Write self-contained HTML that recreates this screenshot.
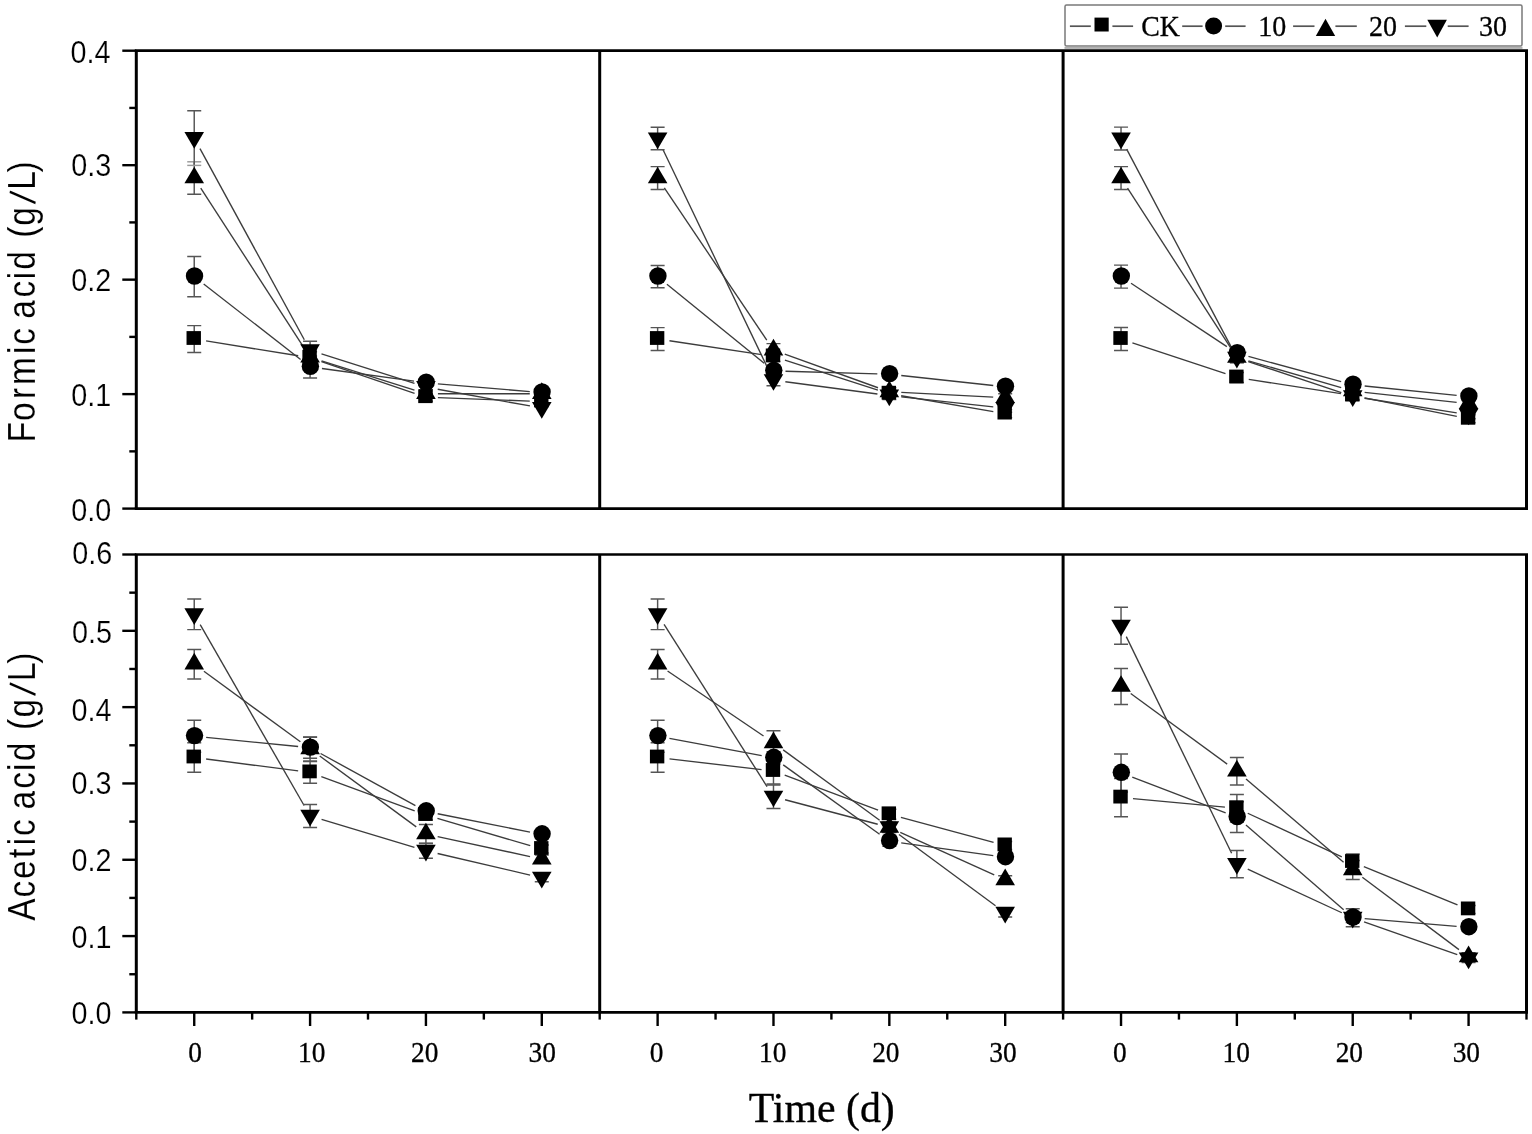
<!DOCTYPE html>
<html lang="en"><head><meta charset="utf-8"><title>Formic and acetic acid over time</title>
<style>html,body{margin:0;padding:0;background:#fff}body{width:1532px;height:1134px;overflow:hidden}svg{display:block}.ser{font-family:"Liberation Serif","DejaVu Serif",serif}.san{font-family:"Liberation Sans","DejaVu Sans",sans-serif}text{fill:#000}</style></head><body>
<svg width="1532" height="1134" viewBox="0 0 1532 1134">
<rect width="1532" height="1134" fill="#fff"/>
<g stroke="#3c3c3c" stroke-width="1.35" fill="none"><line x1="206.07" y1="340.91" x2="298.23" y2="355.79"/><line x1="321.43" y1="361.57" x2="414.57" y2="393.33"/><line x1="437.92" y1="397.65" x2="529.78" y2="401.05"/><line x1="203.69" y1="283.98" x2="300.61" y2="359.52"/><line x1="321.96" y1="368.53" x2="414.04" y2="381.17"/><line x1="437.88" y1="383.81" x2="529.82" y2="391.59"/><line x1="200.74" y1="188.08" x2="303.56" y2="347.12"/><line x1="321.52" y1="360.81" x2="414.48" y2="390.09"/><line x1="437.93" y1="393.70" x2="529.78" y2="393.70"/><line x1="199.98" y1="148.63" x2="304.32" y2="339.77"/><line x1="321.51" y1="353.93" x2="414.49" y2="383.47"/><line x1="437.73" y1="389.24" x2="529.97" y2="405.96"/></g>
<g stroke="#555" stroke-width="1.45" fill="none"><path d="M194.23 325.60V352.40M187.23 325.60h14.0M187.23 352.40h14.0"/><path d="M310.08 351.70V363.70M303.08 351.70h14.0M303.08 363.70h14.0"/><path d="M425.93 393.20V401.20M418.93 393.20h14.0M418.93 401.20h14.0"/><path d="M541.78 397.50V405.50M534.78 397.50h14.0M534.78 405.50h14.0"/><path d="M194.23 256.50V296.70M187.23 256.50h14.0M187.23 296.70h14.0"/><path d="M310.08 355.90V377.90M303.08 355.90h14.0M303.08 377.90h14.0"/><path d="M425.93 378.80V386.80M418.93 378.80h14.0M418.93 386.80h14.0"/><path d="M541.78 388.60V396.60M534.78 388.60h14.0M534.78 396.60h14.0"/><path d="M194.23 161.80V194.20M187.23 194.20h14.0"/><path stroke="#9a9a9a" d="M187.23 161.80h14.0"/><path d="M310.08 349.20V365.20M303.08 349.20h14.0M303.08 365.20h14.0"/><path d="M425.93 389.70V397.70M418.93 389.70h14.0M418.93 397.70h14.0"/><path d="M541.78 389.70V397.70M534.78 389.70h14.0M534.78 397.70h14.0"/><path d="M194.23 110.80V165.40M187.23 110.80h14.0"/><path stroke="#9a9a9a" d="M187.23 165.40h14.0"/><path d="M310.08 341.30V359.30M303.08 341.30h14.0M303.08 359.30h14.0"/><path d="M425.93 383.10V391.10M418.93 383.10h14.0M418.93 391.10h14.0"/></g>
<g fill="#000"><rect x="186.53" y="331.10" width="14.4" height="13.8"/><rect x="302.38" y="349.80" width="14.4" height="13.8"/><rect x="418.23" y="389.30" width="14.4" height="13.8"/><rect x="534.08" y="393.60" width="14.4" height="13.8"/><circle cx="194.53" cy="276.00" r="8.7"/><circle cx="310.38" cy="366.30" r="8.7"/><circle cx="426.23" cy="382.20" r="8.7"/><circle cx="542.08" cy="392.00" r="8.7"/><polygon points="194.23,166.67 204.03,183.37 184.43,183.37"/><polygon points="310.08,345.87 319.88,362.57 300.28,362.57"/><polygon points="425.93,382.37 435.73,399.07 416.12,399.07"/><polygon points="541.78,382.37 551.58,399.07 531.98,399.07"/><polygon points="184.43,132.03 204.03,132.03 194.23,148.73"/><polygon points="300.28,344.23 319.88,344.23 310.08,360.93"/><polygon points="416.12,381.03 435.73,381.03 425.93,397.73"/><polygon points="531.98,402.03 551.58,402.03 541.78,418.73"/></g>
<g stroke="#3c3c3c" stroke-width="1.35" fill="none"><line x1="669.49" y1="340.78" x2="761.61" y2="354.62"/><line x1="784.90" y1="360.08" x2="877.90" y2="390.02"/><line x1="901.15" y1="395.73" x2="993.35" y2="411.57"/><line x1="666.93" y1="284.18" x2="764.17" y2="363.32"/><line x1="785.47" y1="371.24" x2="877.33" y2="373.86"/><line x1="901.25" y1="375.50" x2="993.25" y2="385.50"/><line x1="664.33" y1="187.95" x2="766.77" y2="340.15"/><line x1="784.77" y1="354.16" x2="878.03" y2="387.74"/><line x1="901.31" y1="392.41" x2="993.19" y2="397.09"/><line x1="662.81" y1="149.32" x2="768.29" y2="369.38"/><line x1="785.37" y1="381.78" x2="877.43" y2="394.02"/><line x1="901.25" y1="396.90" x2="993.25" y2="406.90"/></g>
<g stroke="#555" stroke-width="1.45" fill="none"><path d="M657.62 327.60V350.40M650.62 327.60h14.0M650.62 350.40h14.0"/><path d="M773.48 351.40V361.40M766.48 351.40h14.0M766.48 361.40h14.0"/><path d="M889.33 389.70V397.70M882.33 389.70h14.0M882.33 397.70h14.0"/><path d="M1005.18 409.60V417.60M998.18 409.60h14.0M998.18 417.60h14.0"/><path d="M657.62 265.40V287.80M650.62 265.40h14.0M650.62 287.80h14.0"/><path d="M773.48 365.90V375.90M766.48 365.90h14.0M766.48 375.90h14.0"/><path d="M889.33 370.20V378.20M882.33 370.20h14.0M882.33 378.20h14.0"/><path d="M1005.18 382.80V390.80M998.18 382.80h14.0M998.18 390.80h14.0"/><path d="M657.62 166.60V189.40M650.62 166.60h14.0M650.62 189.40h14.0"/><path d="M773.48 343.60V356.60M766.48 343.60h14.0M766.48 356.60h14.0"/><path d="M889.33 387.80V395.80M882.33 387.80h14.0M882.33 395.80h14.0"/><path d="M1005.18 393.70V401.70M998.18 393.70h14.0M998.18 401.70h14.0"/><path d="M657.62 127.20V149.80M650.62 127.20h14.0M650.62 149.80h14.0"/><path d="M773.48 374.70V385.70M766.48 374.70h14.0M766.48 385.70h14.0"/><path d="M889.33 391.60V399.60M882.33 391.60h14.0M882.33 399.60h14.0"/><path d="M1005.18 404.20V412.20M998.18 404.20h14.0M998.18 412.20h14.0"/></g>
<g fill="#000"><rect x="649.92" y="331.10" width="14.4" height="13.8"/><rect x="765.78" y="348.50" width="14.4" height="13.8"/><rect x="881.62" y="385.80" width="14.4" height="13.8"/><rect x="997.48" y="405.70" width="14.4" height="13.8"/><circle cx="657.92" cy="276.00" r="8.7"/><circle cx="773.78" cy="370.30" r="8.7"/><circle cx="889.62" cy="373.60" r="8.7"/><circle cx="1005.48" cy="386.20" r="8.7"/><polygon points="657.62,166.67 667.42,183.37 647.83,183.37"/><polygon points="773.48,338.77 783.28,355.47 763.68,355.47"/><polygon points="889.33,380.47 899.12,397.17 879.53,397.17"/><polygon points="1005.18,386.37 1014.98,403.07 995.38,403.07"/><polygon points="647.83,132.43 667.42,132.43 657.62,149.13"/><polygon points="763.68,374.13 783.28,374.13 773.48,390.83"/><polygon points="879.53,389.53 899.12,389.53 889.33,406.23"/><polygon points="995.38,402.13 1014.98,402.13 1005.18,418.83"/></g>
<g stroke="#3c3c3c" stroke-width="1.35" fill="none"><line x1="1132.41" y1="342.78" x2="1225.49" y2="373.72"/><line x1="1248.73" y1="379.34" x2="1340.87" y2="393.66"/><line x1="1364.49" y1="397.87" x2="1456.81" y2="416.43"/><line x1="1131.03" y1="283.22" x2="1226.87" y2="346.68"/><line x1="1248.45" y1="356.45" x2="1341.15" y2="381.65"/><line x1="1364.66" y1="386.02" x2="1456.64" y2="395.38"/><line x1="1127.53" y1="188.08" x2="1230.37" y2="347.42"/><line x1="1248.40" y1="360.83" x2="1341.20" y2="387.67"/><line x1="1364.65" y1="392.30" x2="1456.65" y2="402.30"/><line x1="1126.63" y1="149.11" x2="1231.27" y2="347.19"/><line x1="1248.26" y1="361.59" x2="1341.34" y2="392.61"/><line x1="1364.58" y1="398.27" x2="1456.72" y2="412.83"/></g>
<g stroke="#555" stroke-width="1.45" fill="none"><path d="M1121.03 327.50V350.50M1114.03 327.50h14.0M1114.03 350.50h14.0"/><path d="M1236.88 372.50V382.50M1229.88 372.50h14.0M1229.88 382.50h14.0"/><path d="M1352.73 391.50V399.50M1345.73 391.50h14.0M1345.73 399.50h14.0"/><path d="M1468.58 414.80V422.80M1461.58 414.80h14.0M1461.58 422.80h14.0"/><path d="M1121.03 265.10V288.10M1114.03 265.10h14.0M1114.03 288.10h14.0"/><path d="M1236.88 348.30V358.30M1229.88 348.30h14.0M1229.88 358.30h14.0"/><path d="M1352.73 380.80V388.80M1345.73 380.80h14.0M1345.73 388.80h14.0"/><path d="M1468.58 392.60V400.60M1461.58 392.60h14.0M1461.58 400.60h14.0"/><path d="M1121.03 166.60V189.40M1114.03 166.60h14.0M1114.03 189.40h14.0"/><path d="M1236.88 352.50V362.50M1229.88 352.50h14.0M1229.88 362.50h14.0"/><path d="M1352.73 387.00V395.00M1345.73 387.00h14.0M1345.73 395.00h14.0"/><path d="M1468.58 399.60V407.60M1461.58 399.60h14.0M1461.58 407.60h14.0"/><path d="M1121.03 127.10V149.90M1114.03 127.10h14.0M1114.03 149.90h14.0"/><path d="M1236.88 352.80V362.80M1229.88 352.80h14.0M1229.88 362.80h14.0"/><path d="M1352.73 392.40V400.40M1345.73 392.40h14.0M1345.73 400.40h14.0"/><path d="M1468.58 410.70V418.70M1461.58 410.70h14.0M1461.58 418.70h14.0"/></g>
<g fill="#000"><rect x="1113.33" y="331.10" width="14.4" height="13.8"/><rect x="1229.18" y="369.60" width="14.4" height="13.8"/><rect x="1345.03" y="387.60" width="14.4" height="13.8"/><rect x="1460.88" y="410.90" width="14.4" height="13.8"/><circle cx="1121.33" cy="276.00" r="8.7"/><circle cx="1237.18" cy="352.70" r="8.7"/><circle cx="1353.03" cy="384.20" r="8.7"/><circle cx="1468.88" cy="396.00" r="8.7"/><polygon points="1121.03,166.67 1130.83,183.37 1111.23,183.37"/><polygon points="1236.88,346.17 1246.68,362.87 1227.08,362.87"/><polygon points="1352.73,379.67 1362.53,396.37 1342.93,396.37"/><polygon points="1468.58,392.27 1478.38,408.97 1458.78,408.97"/><polygon points="1111.23,132.43 1130.83,132.43 1121.03,149.13"/><polygon points="1227.08,351.73 1246.68,351.73 1236.88,368.43"/><polygon points="1342.93,390.33 1362.53,390.33 1352.73,407.03"/><polygon points="1458.78,408.63 1478.38,408.63 1468.58,425.33"/></g>
<g stroke="#3c3c3c" stroke-width="1.35" fill="none"><line x1="206.13" y1="759.03" x2="298.17" y2="770.87"/><line x1="321.34" y1="776.54" x2="414.66" y2="810.86"/><line x1="437.44" y1="818.38" x2="530.26" y2="845.62"/><line x1="206.17" y1="737.39" x2="298.13" y2="746.51"/><line x1="320.59" y1="753.48" x2="415.41" y2="805.62"/><line x1="437.70" y1="813.74" x2="530.00" y2="832.06"/><line x1="203.91" y1="671.28" x2="300.39" y2="741.82"/><line x1="319.75" y1="756.00" x2="416.25" y2="826.90"/><line x1="437.65" y1="836.54" x2="530.05" y2="856.56"/><line x1="200.20" y1="624.70" x2="304.10" y2="805.50"/><line x1="321.56" y1="819.36" x2="414.44" y2="847.34"/><line x1="437.61" y1="853.52" x2="530.09" y2="875.08"/></g>
<g stroke="#555" stroke-width="1.45" fill="none"><path d="M194.23 742.70V772.30M187.23 742.70h14.0M187.23 772.30h14.0"/><path d="M310.08 761.60V783.20M303.08 761.60h14.0M303.08 783.20h14.0"/><path d="M425.93 810.00V820.00M418.93 810.00h14.0M418.93 820.00h14.0"/><path d="M541.78 845.00V853.00M534.78 845.00h14.0M534.78 853.00h14.0"/><path d="M194.23 720.20V752.20M187.23 720.20h14.0M187.23 752.20h14.0"/><path d="M310.08 737.20V758.20M303.08 737.20h14.0M303.08 758.20h14.0"/><path d="M425.93 806.40V816.40M418.93 806.40h14.0M418.93 816.40h14.0"/><path d="M541.78 830.40V838.40M534.78 830.40h14.0M534.78 838.40h14.0"/><path d="M194.23 649.40V679.00M187.23 649.40h14.0M187.23 679.00h14.0"/><path d="M310.08 736.90V760.90M303.08 736.90h14.0M303.08 760.90h14.0"/><path d="M425.93 824.50V843.50M418.93 824.50h14.0M418.93 843.50h14.0"/><path d="M541.78 855.10V863.10M534.78 855.10h14.0M534.78 863.10h14.0"/><path d="M194.23 599.00V629.60M187.23 599.00h14.0M187.23 629.60h14.0"/><path d="M310.08 804.40V827.40M303.08 804.40h14.0M303.08 827.40h14.0"/><path d="M425.93 843.30V858.30M418.93 843.30h14.0M418.93 858.30h14.0"/><path d="M541.78 873.80V881.80M534.78 873.80h14.0M534.78 881.80h14.0"/></g>
<g fill="#000"><rect x="186.53" y="749.60" width="14.4" height="13.8"/><rect x="302.38" y="764.50" width="14.4" height="13.8"/><rect x="418.23" y="807.10" width="14.4" height="13.8"/><rect x="534.08" y="841.10" width="14.4" height="13.8"/><circle cx="194.53" cy="735.60" r="8.7"/><circle cx="310.38" cy="747.10" r="8.7"/><circle cx="426.23" cy="810.80" r="8.7"/><circle cx="542.08" cy="833.80" r="8.7"/><polygon points="194.23,652.87 204.03,669.57 184.43,669.57"/><polygon points="310.08,737.57 319.88,754.27 300.28,754.27"/><polygon points="425.93,822.67 435.73,839.37 416.12,839.37"/><polygon points="541.78,847.77 551.58,864.47 531.98,864.47"/><polygon points="184.43,608.23 204.03,608.23 194.23,624.93"/><polygon points="300.28,809.83 319.88,809.83 310.08,826.53"/><polygon points="416.12,844.73 435.73,844.73 425.93,861.43"/><polygon points="531.98,871.73 551.58,871.73 541.78,888.43"/></g>
<g stroke="#3c3c3c" stroke-width="1.35" fill="none"><line x1="669.54" y1="758.89" x2="761.56" y2="769.61"/><line x1="784.72" y1="775.20" x2="878.08" y2="810.10"/><line x1="900.91" y1="817.41" x2="993.59" y2="842.29"/><line x1="669.42" y1="738.41" x2="761.68" y2="755.69"/><line x1="783.22" y1="764.91" x2="879.58" y2="834.19"/><line x1="901.21" y1="842.85" x2="993.29" y2="855.65"/><line x1="667.56" y1="670.94" x2="763.54" y2="736.06"/><line x1="783.17" y1="749.88" x2="879.63" y2="820.32"/><line x1="900.26" y1="832.35" x2="994.24" y2="874.85"/><line x1="664.06" y1="624.43" x2="767.04" y2="786.57"/><line x1="785.08" y1="799.76" x2="877.72" y2="824.24"/><line x1="898.98" y1="834.43" x2="995.52" y2="905.77"/></g>
<g stroke="#555" stroke-width="1.45" fill="none"><path d="M657.62 742.70V772.30M650.62 742.70h14.0M650.62 772.30h14.0"/><path d="M773.48 758.00V784.00M766.48 758.00h14.0M766.48 784.00h14.0"/><path d="M889.33 809.30V819.30M882.33 809.30h14.0M882.33 819.30h14.0"/><path d="M1005.18 841.40V849.40M998.18 841.40h14.0M998.18 849.40h14.0"/><path d="M657.62 720.20V752.20M650.62 720.20h14.0M650.62 752.20h14.0"/><path d="M773.48 751.90V763.90M766.48 751.90h14.0M766.48 763.90h14.0"/><path d="M889.33 836.20V846.20M882.33 836.20h14.0M882.33 846.20h14.0"/><path d="M1005.18 853.30V861.30M998.18 853.30h14.0M998.18 861.30h14.0"/><path d="M657.62 649.40V679.00M650.62 649.40h14.0M650.62 679.00h14.0"/><path d="M773.48 730.80V754.80M766.48 730.80h14.0M766.48 754.80h14.0"/><path d="M889.33 822.40V832.40M882.33 822.40h14.0M882.33 832.40h14.0"/><path d="M1005.18 875.80V883.80M998.18 875.80h14.0M998.18 883.80h14.0"/><path d="M657.62 599.00V629.60M650.62 599.00h14.0M650.62 629.60h14.0"/><path d="M773.48 785.00V808.40M766.48 785.00h14.0M766.48 808.40h14.0"/><path d="M889.33 822.30V832.30M882.33 822.30h14.0M882.33 832.30h14.0"/><path d="M1005.18 908.90V916.90M998.18 908.90h14.0M998.18 916.90h14.0"/></g>
<g fill="#000"><rect x="649.92" y="749.60" width="14.4" height="13.8"/><rect x="765.78" y="763.10" width="14.4" height="13.8"/><rect x="881.62" y="806.40" width="14.4" height="13.8"/><rect x="997.48" y="837.50" width="14.4" height="13.8"/><circle cx="657.92" cy="735.60" r="8.7"/><circle cx="773.78" cy="757.30" r="8.7"/><circle cx="889.62" cy="840.60" r="8.7"/><circle cx="1005.48" cy="856.70" r="8.7"/><polygon points="657.62,652.87 667.42,669.57 647.83,669.57"/><polygon points="773.48,731.47 783.28,748.17 763.68,748.17"/><polygon points="889.33,816.07 899.12,832.77 879.53,832.77"/><polygon points="1005.18,868.47 1014.98,885.17 995.38,885.17"/><polygon points="647.83,608.23 667.42,608.23 657.62,624.93"/><polygon points="763.68,790.63 783.28,790.63 773.48,807.33"/><polygon points="879.53,821.23 899.12,821.23 889.33,837.93"/><polygon points="995.38,906.83 1014.98,906.83 1005.18,923.53"/></g>
<g stroke="#3c3c3c" stroke-width="1.35" fill="none"><line x1="1132.98" y1="798.69" x2="1224.92" y2="807.11"/><line x1="1247.76" y1="813.25" x2="1341.84" y2="856.95"/><line x1="1363.83" y1="866.54" x2="1457.47" y2="904.86"/><line x1="1132.24" y1="777.18" x2="1225.66" y2="812.82"/><line x1="1245.94" y1="824.96" x2="1343.66" y2="909.74"/><line x1="1364.68" y1="918.60" x2="1456.62" y2="926.30"/><line x1="1130.71" y1="693.58" x2="1227.19" y2="764.12"/><line x1="1246.01" y1="778.99" x2="1343.59" y2="862.21"/><line x1="1362.33" y1="877.20" x2="1458.97" y2="949.60"/><line x1="1126.27" y1="636.59" x2="1231.63" y2="853.31"/><line x1="1247.76" y1="869.15" x2="1341.84" y2="912.75"/><line x1="1364.04" y1="921.79" x2="1457.26" y2="954.61"/></g>
<g stroke="#555" stroke-width="1.45" fill="none"><path d="M1121.03 778.40V816.80M1114.03 778.40h14.0M1114.03 816.80h14.0"/><path d="M1236.88 794.50V821.90M1229.88 794.50h14.0M1229.88 821.90h14.0"/><path d="M1352.73 854.00V870.00M1345.73 854.00h14.0M1345.73 870.00h14.0"/><path d="M1468.58 905.40V913.40M1461.58 905.40h14.0M1461.58 913.40h14.0"/><path d="M1121.03 753.90V791.90M1114.03 753.90h14.0M1114.03 791.90h14.0"/><path d="M1236.88 801.80V832.40M1229.88 801.80h14.0M1229.88 832.40h14.0"/><path d="M1352.73 912.60V922.60M1345.73 912.60h14.0M1345.73 922.60h14.0"/><path d="M1468.58 923.30V931.30M1461.58 923.30h14.0M1461.58 931.30h14.0"/><path d="M1121.03 668.50V704.50M1114.03 668.50h14.0M1114.03 704.50h14.0"/><path d="M1236.88 757.50V784.90M1229.88 757.50h14.0M1229.88 784.90h14.0"/><path d="M1352.73 860.50V879.50M1345.73 860.50h14.0M1345.73 879.50h14.0"/><path d="M1468.58 952.80V960.80M1461.58 952.80h14.0M1461.58 960.80h14.0"/><path d="M1121.03 607.30V644.30M1114.03 607.30h14.0M1114.03 644.30h14.0"/><path d="M1236.88 850.40V877.80M1229.88 850.40h14.0M1229.88 877.80h14.0"/><path d="M1352.73 908.80V926.80M1345.73 908.80h14.0M1345.73 926.80h14.0"/><path d="M1468.58 954.60V962.60M1461.58 954.60h14.0M1461.58 962.60h14.0"/></g>
<g fill="#000"><rect x="1113.33" y="789.70" width="14.4" height="13.8"/><rect x="1229.18" y="800.30" width="14.4" height="13.8"/><rect x="1345.03" y="854.10" width="14.4" height="13.8"/><rect x="1460.88" y="901.50" width="14.4" height="13.8"/><circle cx="1121.33" cy="772.30" r="8.7"/><circle cx="1237.18" cy="816.50" r="8.7"/><circle cx="1353.03" cy="917.00" r="8.7"/><circle cx="1468.88" cy="926.70" r="8.7"/><polygon points="1121.03,675.17 1130.83,691.87 1111.23,691.87"/><polygon points="1236.88,759.87 1246.68,776.57 1227.08,776.57"/><polygon points="1352.73,858.67 1362.53,875.37 1342.93,875.37"/><polygon points="1468.58,945.47 1478.38,962.17 1458.78,962.17"/><polygon points="1111.23,619.73 1130.83,619.73 1121.03,636.43"/><polygon points="1227.08,858.03 1246.68,858.03 1236.88,874.73"/><polygon points="1342.93,911.73 1362.53,911.73 1352.73,928.43"/><polygon points="1458.78,952.53 1478.38,952.53 1468.58,969.23"/></g>
<g stroke="#000" fill="none" stroke-linecap="butt">
<line x1="134.80" y1="50.7" x2="1528.00" y2="50.7" stroke-width="2.7"/>
<line x1="134.80" y1="508.6" x2="1528.00" y2="508.6" stroke-width="2.7"/>
<line x1="136.30" y1="50.7" x2="136.30" y2="508.6" stroke-width="3.0"/>
<line x1="599.70" y1="50.7" x2="599.70" y2="508.6" stroke-width="3.0"/>
<line x1="1063.10" y1="50.7" x2="1063.10" y2="508.6" stroke-width="3.0"/>
<line x1="1526.50" y1="50.7" x2="1526.50" y2="508.6" stroke-width="3.0"/>
<line x1="134.80" y1="554.5" x2="1528.00" y2="554.5" stroke-width="2.7"/>
<line x1="134.80" y1="1012.4" x2="1528.00" y2="1012.4" stroke-width="2.7"/>
<line x1="136.30" y1="554.5" x2="136.30" y2="1012.4" stroke-width="3.0"/>
<line x1="599.70" y1="554.5" x2="599.70" y2="1012.4" stroke-width="3.0"/>
<line x1="1063.10" y1="554.5" x2="1063.10" y2="1012.4" stroke-width="3.0"/>
<line x1="1526.50" y1="554.5" x2="1526.50" y2="1012.4" stroke-width="3.0"/>
</g>
<g stroke="#000" stroke-width="2.4" fill="none">
<line x1="122.30" y1="50.70" x2="136.30" y2="50.70"/>
<line x1="129.30" y1="107.94" x2="136.30" y2="107.94"/>
<line x1="122.30" y1="165.18" x2="136.30" y2="165.18"/>
<line x1="129.30" y1="222.41" x2="136.30" y2="222.41"/>
<line x1="122.30" y1="279.65" x2="136.30" y2="279.65"/>
<line x1="129.30" y1="336.89" x2="136.30" y2="336.89"/>
<line x1="122.30" y1="394.12" x2="136.30" y2="394.12"/>
<line x1="129.30" y1="451.36" x2="136.30" y2="451.36"/>
<line x1="122.30" y1="508.60" x2="136.30" y2="508.60"/>
<line x1="122.30" y1="554.50" x2="136.30" y2="554.50"/>
<line x1="129.30" y1="592.66" x2="136.30" y2="592.66"/>
<line x1="122.30" y1="630.82" x2="136.30" y2="630.82"/>
<line x1="129.30" y1="668.98" x2="136.30" y2="668.98"/>
<line x1="122.30" y1="707.13" x2="136.30" y2="707.13"/>
<line x1="129.30" y1="745.29" x2="136.30" y2="745.29"/>
<line x1="122.30" y1="783.45" x2="136.30" y2="783.45"/>
<line x1="129.30" y1="821.61" x2="136.30" y2="821.61"/>
<line x1="122.30" y1="859.77" x2="136.30" y2="859.77"/>
<line x1="129.30" y1="897.92" x2="136.30" y2="897.92"/>
<line x1="122.30" y1="936.08" x2="136.30" y2="936.08"/>
<line x1="129.30" y1="974.24" x2="136.30" y2="974.24"/>
<line x1="122.30" y1="1012.40" x2="136.30" y2="1012.40"/>
<line x1="136.30" y1="1012.40" x2="136.30" y2="1019.60"/>
<line x1="194.23" y1="1012.40" x2="194.23" y2="1026.00"/>
<line x1="252.15" y1="1012.40" x2="252.15" y2="1019.60"/>
<line x1="310.08" y1="1012.40" x2="310.08" y2="1026.00"/>
<line x1="368.00" y1="1012.40" x2="368.00" y2="1019.60"/>
<line x1="425.93" y1="1012.40" x2="425.93" y2="1026.00"/>
<line x1="483.85" y1="1012.40" x2="483.85" y2="1019.60"/>
<line x1="541.78" y1="1012.40" x2="541.78" y2="1026.00"/>
<line x1="599.70" y1="1012.40" x2="599.70" y2="1019.60"/>
<line x1="657.62" y1="1012.40" x2="657.62" y2="1026.00"/>
<line x1="715.55" y1="1012.40" x2="715.55" y2="1019.60"/>
<line x1="773.48" y1="1012.40" x2="773.48" y2="1026.00"/>
<line x1="831.40" y1="1012.40" x2="831.40" y2="1019.60"/>
<line x1="889.33" y1="1012.40" x2="889.33" y2="1026.00"/>
<line x1="947.25" y1="1012.40" x2="947.25" y2="1019.60"/>
<line x1="1005.18" y1="1012.40" x2="1005.18" y2="1026.00"/>
<line x1="1063.10" y1="1012.40" x2="1063.10" y2="1019.60"/>
<line x1="1121.03" y1="1012.40" x2="1121.03" y2="1026.00"/>
<line x1="1178.95" y1="1012.40" x2="1178.95" y2="1019.60"/>
<line x1="1236.88" y1="1012.40" x2="1236.88" y2="1026.00"/>
<line x1="1294.80" y1="1012.40" x2="1294.80" y2="1019.60"/>
<line x1="1352.73" y1="1012.40" x2="1352.73" y2="1026.00"/>
<line x1="1410.65" y1="1012.40" x2="1410.65" y2="1019.60"/>
<line x1="1468.58" y1="1012.40" x2="1468.58" y2="1026.00"/>
<line x1="1526.50" y1="1012.40" x2="1526.50" y2="1019.60"/>
</g>
<g class="san" font-size="30.6" text-anchor="end" stroke="#fff" stroke-width="0.18" paint-order="fill stroke">
<text x="110.6" y="62.90" textLength="40.0" lengthAdjust="spacingAndGlyphs">0.4</text>
<text x="111.2" y="175.68" textLength="40.0" lengthAdjust="spacingAndGlyphs">0.3</text>
<text x="111.2" y="291.15" textLength="40.0" lengthAdjust="spacingAndGlyphs">0.2</text>
<text x="111.2" y="405.93" textLength="40.0" lengthAdjust="spacingAndGlyphs">0.1</text>
<text x="111.2" y="520.90" textLength="40.0" lengthAdjust="spacingAndGlyphs">0.0</text>
<text x="112.2" y="564.00" textLength="40.0" lengthAdjust="spacingAndGlyphs">0.6</text>
<text x="112.0" y="643.12" textLength="40.0" lengthAdjust="spacingAndGlyphs">0.5</text>
<text x="111.4" y="720.93" textLength="40.0" lengthAdjust="spacingAndGlyphs">0.4</text>
<text x="111.4" y="794.25" textLength="40.0" lengthAdjust="spacingAndGlyphs">0.3</text>
<text x="111.4" y="871.37" textLength="40.0" lengthAdjust="spacingAndGlyphs">0.2</text>
<text x="111.4" y="947.68" textLength="40.0" lengthAdjust="spacingAndGlyphs">0.1</text>
<text x="111.4" y="1024.40" textLength="40.0" lengthAdjust="spacingAndGlyphs">0.0</text>
</g>
<g class="ser" font-size="28.8" text-anchor="middle" stroke="#000" stroke-width="0.3">
<text x="195.10" y="1062.0" textLength="13.7" lengthAdjust="spacingAndGlyphs">0</text>
<text x="311.75" y="1062.0" textLength="27.4" lengthAdjust="spacingAndGlyphs">10</text>
<text x="424.80" y="1062.0" textLength="27.4" lengthAdjust="spacingAndGlyphs">20</text>
<text x="542.20" y="1062.0" textLength="27.4" lengthAdjust="spacingAndGlyphs">30</text>
<text x="656.70" y="1062.0" textLength="13.7" lengthAdjust="spacingAndGlyphs">0</text>
<text x="772.80" y="1062.0" textLength="27.4" lengthAdjust="spacingAndGlyphs">10</text>
<text x="885.85" y="1062.0" textLength="27.4" lengthAdjust="spacingAndGlyphs">20</text>
<text x="1003.00" y="1062.0" textLength="27.4" lengthAdjust="spacingAndGlyphs">30</text>
<text x="1119.90" y="1062.0" textLength="13.7" lengthAdjust="spacingAndGlyphs">0</text>
<text x="1236.25" y="1062.0" textLength="27.4" lengthAdjust="spacingAndGlyphs">10</text>
<text x="1349.35" y="1062.0" textLength="27.4" lengthAdjust="spacingAndGlyphs">20</text>
<text x="1466.35" y="1062.0" textLength="27.4" lengthAdjust="spacingAndGlyphs">30</text>
</g>
<text class="ser" font-size="42.5" stroke="#000" stroke-width="0.35" x="821.8" y="1122" text-anchor="middle" textLength="146" lengthAdjust="spacingAndGlyphs">Time (d)</text>
<text class="san" font-size="38.0" stroke="#fff" stroke-width="0.15" paint-order="fill stroke" xml:space="preserve" transform="translate(35.0,0.0) rotate(-90) scale(0.88,1)" x="-502.60 -478.54 -453.30 -437.42 -402.36 -391.64 -372.64 -362.08 -337.95 -317.42 -306.68 -285.55 -270.31 -256.62 -232.24 -215.51 -196.12" y="0" rotate="0 0 0 0 0 0 0 0 0 0 0 0 0 0 11.0 0 0">Formic acid (g/L)</text>
<text class="san" font-size="38.0" stroke="#fff" stroke-width="0.15" paint-order="fill stroke" xml:space="preserve" transform="translate(35.0,0.0) rotate(-90) scale(0.88,1)" x="-1046.42 -1019.88 -998.82 -974.94 -960.43 -950.11 -931.11 -919.92 -896.36 -876.23 -864.98 -843.84 -829.46 -815.37 -790.88 -773.86 -754.41" y="0" rotate="0 0 0 0 0 0 0 0 0 0 0 0 0 0 11.0 0 0">Acetic acid (g/L)</text>
<rect x="1065" y="5" width="457" height="41" rx="1.5" fill="#fff" stroke="#7a7a7a" stroke-width="1.5"/>
<rect x="1064.5" y="46.9" width="458" height="2" fill="#b0b0b0"/>
<g stroke="#555" stroke-width="1.7" fill="none">
<line x1="1069.9" y1="26.2" x2="1090.8" y2="26.2"/>
<line x1="1112.4" y1="26.2" x2="1133.1" y2="26.2"/>
<line x1="1182.2" y1="26.2" x2="1202.6" y2="26.2"/>
<line x1="1225.2" y1="26.2" x2="1245.6" y2="26.2"/>
<line x1="1293.1" y1="26.2" x2="1314.5" y2="26.2"/>
<line x1="1335.4" y1="26.2" x2="1356.8" y2="26.2"/>
<line x1="1404.9" y1="26.2" x2="1426.3" y2="26.2"/>
<line x1="1447.7" y1="26.2" x2="1468.6" y2="26.2"/>
</g>
<g fill="#000">
<rect x="1094.5" y="17.6" width="14.2" height="13.9"/>
<circle cx="1213.6" cy="25.9" r="8.5"/>
<polygon points="1325.5,18.8 1335.2,36 1315.8,36"/>
<polygon points="1427.3,19.8 1446.9,19.8 1437.2,37.4"/>
</g>
<g class="ser" font-size="29.8" stroke="#000" stroke-width="0.3">
<text x="1141.2" y="36.4" textLength="38.6" lengthAdjust="spacingAndGlyphs">CK</text>
<text x="1258.2" y="36.4" textLength="28" lengthAdjust="spacingAndGlyphs">10</text>
<text x="1369.1" y="36.4" textLength="28" lengthAdjust="spacingAndGlyphs">20</text>
<text x="1479.0" y="36.4" textLength="28" lengthAdjust="spacingAndGlyphs">30</text>
</g>
</svg></body></html>
